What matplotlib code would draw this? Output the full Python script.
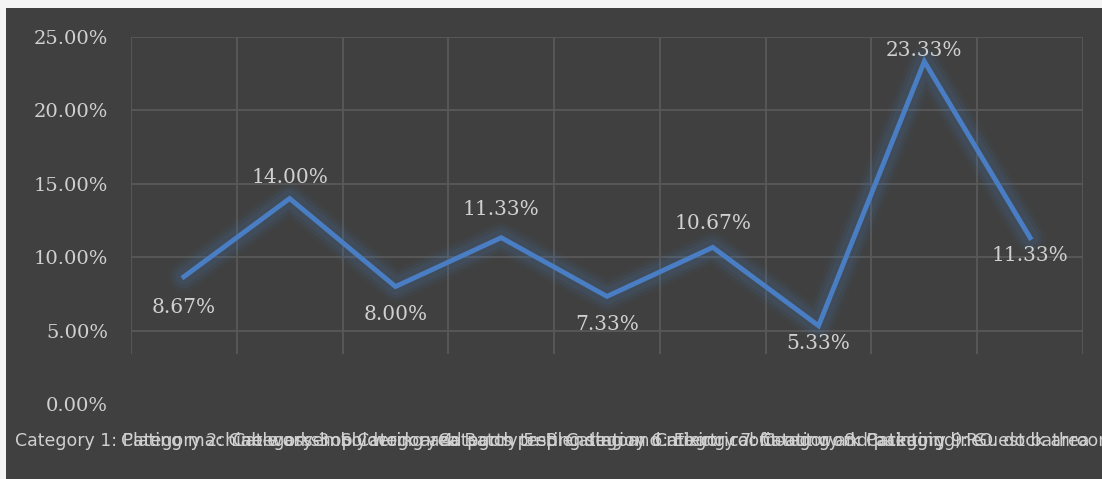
import matplotlib.pyplot as plt
from matplotlib.patches import Rectangle
import numpy as np

# data
categories = [
    "Category 1: Plating machine workshop",
    "Category 2: Cable assembly work area",
    "Category 3: Soldering and parts prep",
    "Category 4: Batch testing station",
    "Category 5: Blending and mixing room",
    "Category 6: Electrical fit-out work",
    "Category 7: Coating and painting line",
    "Category 8: Packaging, P.O. dock area",
    "Category 9: Guest bathroom cleaning",
]
values = [8.67, 14.00, 8.00, 11.33, 7.33, 10.67, 5.33, 23.33, 11.33]
y_ticks = [0, 5, 10, 15, 20, 25]

BG = '#404040'
GRID = '#595959'
TEXT = '#d0d0d0'
LINE = '#4a7ec4'

fig = plt.figure(figsize=(11.02, 4.79), dpi=100)
fig.patch.set_facecolor(BG)
# light strips on the top and left edge
fig.add_artist(Rectangle((0, 0), 6 / 1102, 1, transform=fig.transFigure,
                         facecolor='#f4f4f4', edgecolor='none'))
fig.add_artist(Rectangle((0, (479 - 8) / 479), 1, 8 / 479, transform=fig.transFigure,
                         facecolor='#f4f4f4', edgecolor='none'))

ax = fig.add_axes([131 / 1102, 75 / 479, 952 / 1102, 367 / 479])
ax.set_facecolor(BG)
for s in ax.spines.values():
    s.set_visible(False)

n = len(values)
x = np.arange(n)
ax.set_xlim(-0.5, n - 0.5)
ax.set_ylim(0, 25)

# gridlines (only drawn down to ~3.4% like the original)
for yv in y_ticks[1:]:
    ax.hlines(yv, -0.5, n - 0.5, color=GRID, lw=1.3, zorder=1)
for xv in np.arange(n + 1) - 0.5:
    ax.vlines(xv, 3.4, 25, color=GRID, lw=1.3, zorder=1)

# glow under the line
for lw, a in [(22, 0.05), (17, 0.07), (12, 0.1)]:
    ax.plot(x, values, color=LINE, lw=lw, alpha=a, solid_joinstyle='round',
            solid_capstyle='round', zorder=2)
ax.plot(x, values, color=LINE, lw=3.5, solid_joinstyle='miter', zorder=3)

# data labels
offsets = [-22, 15, -20, 20, -20, 17, -13, 8, -13]
for xi, v, off in zip(x, values, offsets):
    ax.annotate(f'{v:.2f}%', xy=(xi, v), xytext=(0, off),
                textcoords='offset points', ha='center', va='center',
                color=TEXT, fontsize=14.5, family='DejaVu Serif', zorder=4)

ax.set_yticks(y_ticks)
ax.set_yticklabels([f'{t:.2f}%' for t in y_ticks], family='DejaVu Serif',
                   fontsize=14, color=TEXT)
ax.tick_params(axis='y', length=0, pad=16.5)
ax.set_xticks(x)
ax.set_xticklabels(categories, fontsize=12.5, color=TEXT, family='DejaVu Sans')
ax.tick_params(axis='x', length=0, pad=20)

plt.savefig('out.png', dpi=100, facecolor=fig.get_facecolor())
